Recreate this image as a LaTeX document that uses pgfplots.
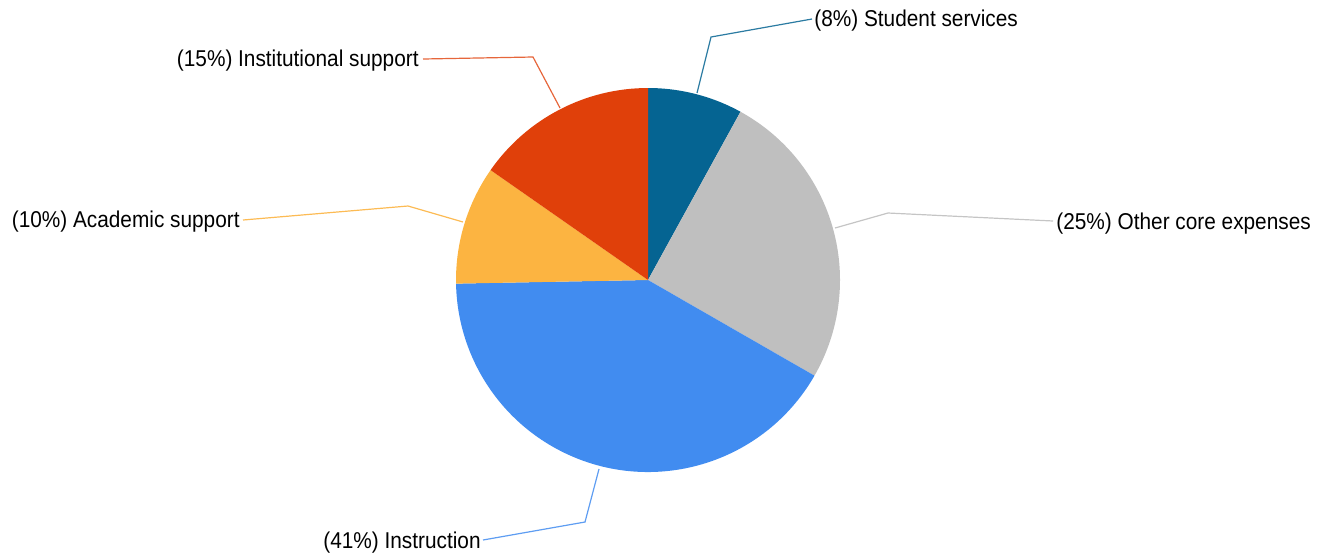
\documentclass[border=0pt]{standalone}
\usepackage{pgfplots}
\usepackage{pgfplotstable}
\pgfplotsset{compat=1.18}
\usepackage{fontspec}
\setmainfont{Liberation Sans}
\definecolor{cStudent}{HTML}{056492}
\definecolor{cOther}{HTML}{BFBFBF}
\definecolor{cInstr}{HTML}{418CF0}
\definecolor{cAcad}{HTML}{FCB441}
\definecolor{cInst}{HTML}{E0400A}
\newcommand\lbl{\fontsize{10.4}{12}\selectfont}
\newcommand\tall[1]{\scalebox{1}[1.1]{#1}}

% shares in percent, clockwise from 12 o'clock
\pgfplotstableread{
name value
Student 8.0
Other 25.3
Instruction 41.4
Academic 10.0
Institutional 15.3
}\piedata

\begin{document}%
\begin{tikzpicture}
\pgfplotstablegetelem{0}{value}\of\piedata \global\let\vA\pgfplotsretval
\pgfplotstablegetelem{1}{value}\of\piedata \global\let\vB\pgfplotsretval
\pgfplotstablegetelem{2}{value}\of\piedata \global\let\vC\pgfplotsretval
\pgfplotstablegetelem{3}{value}\of\piedata \global\let\vD\pgfplotsretval
\pgfplotstablegetelem{4}{value}\of\piedata \global\let\vE\pgfplotsretval
\pgfmathsetmacro\tot{\vA+\vB+\vC+\vD+\vE}
\pgfmathsetmacro\tA{360*\vA/\tot}
\pgfmathsetmacro\tB{\tA+360*\vB/\tot}
\pgfmathsetmacro\tC{\tB+360*\vC/\tot}
\pgfmathsetmacro\tD{\tC+360*\vD/\tot}
\begin{axis}[scale only axis, width=662.5pt, height=279pt,
  xmin=0, xmax=1325, ymin=0, ymax=558, y dir=reverse,
  hide axis, clip=false]
% full canvas (keeps the picture at 1325x558 px)
\path (axis cs:0,0) rectangle (axis cs:1325,558);
% pie slices (centre 648,280 px; radius 192 px = 96pt)
\fill[cStudent] (axis cs:648,280) -- ++(90:96pt) arc[start angle=90, end angle={90-\tA}, radius=96pt] -- cycle;
\fill[cOther] (axis cs:648,280) -- ++({90-\tA}:96pt) arc[start angle={90-\tA}, end angle={90-\tB}, radius=96pt] -- cycle;
\fill[cInstr] (axis cs:648,280) -- ++({90-\tB}:96pt) arc[start angle={90-\tB}, end angle={90-\tC}, radius=96pt] -- cycle;
\fill[cAcad] (axis cs:648,280) -- ++({90-\tC}:96pt) arc[start angle={90-\tC}, end angle={90-\tD}, radius=96pt] -- cycle;
\fill[cInst] (axis cs:648,280) -- ++({90-\tD}:96pt) arc[start angle={90-\tD}, end angle={-270}, radius=96pt] -- cycle;
% leader lines
\addplot[cStudent!85, line width=0.6pt, mark=none] coordinates {(697,93) (711,37) (812,19)};
\addplot[cOther!90, line width=0.6pt, mark=none] coordinates {(835,228) (888,213) (1053,221)};
\addplot[cInstr!85, line width=0.6pt, mark=none] coordinates {(599,469) (585,522) (483,540)};
\addplot[cAcad!90, line width=0.6pt, mark=none] coordinates {(463,222) (408,206) (243,220)};
\addplot[cInst!80, line width=0.6pt, mark=none] coordinates {(560,108) (533,57) (423,59)};
% labels
\node[anchor=base west, inner sep=0pt, font=\lbl] at (axis cs:814,26) {\tall{(8\%) Student services}};
\node[anchor=base west, inner sep=0pt, font=\lbl] at (axis cs:1056,229) {\tall{(25\%) Other core expenses}};
\node[anchor=base east, inner sep=0pt, font=\lbl] at (axis cs:481,548) {\tall{(41\%) Instruction}};
\node[anchor=base east, inner sep=0pt, font=\lbl] at (axis cs:240,227) {\tall{(10\%) Academic support}};
\node[anchor=base east, inner sep=0pt, font=\lbl] at (axis cs:419,66) {\tall{(15\%) Institutional support}};
\end{axis}
\end{tikzpicture}%
\end{document}
